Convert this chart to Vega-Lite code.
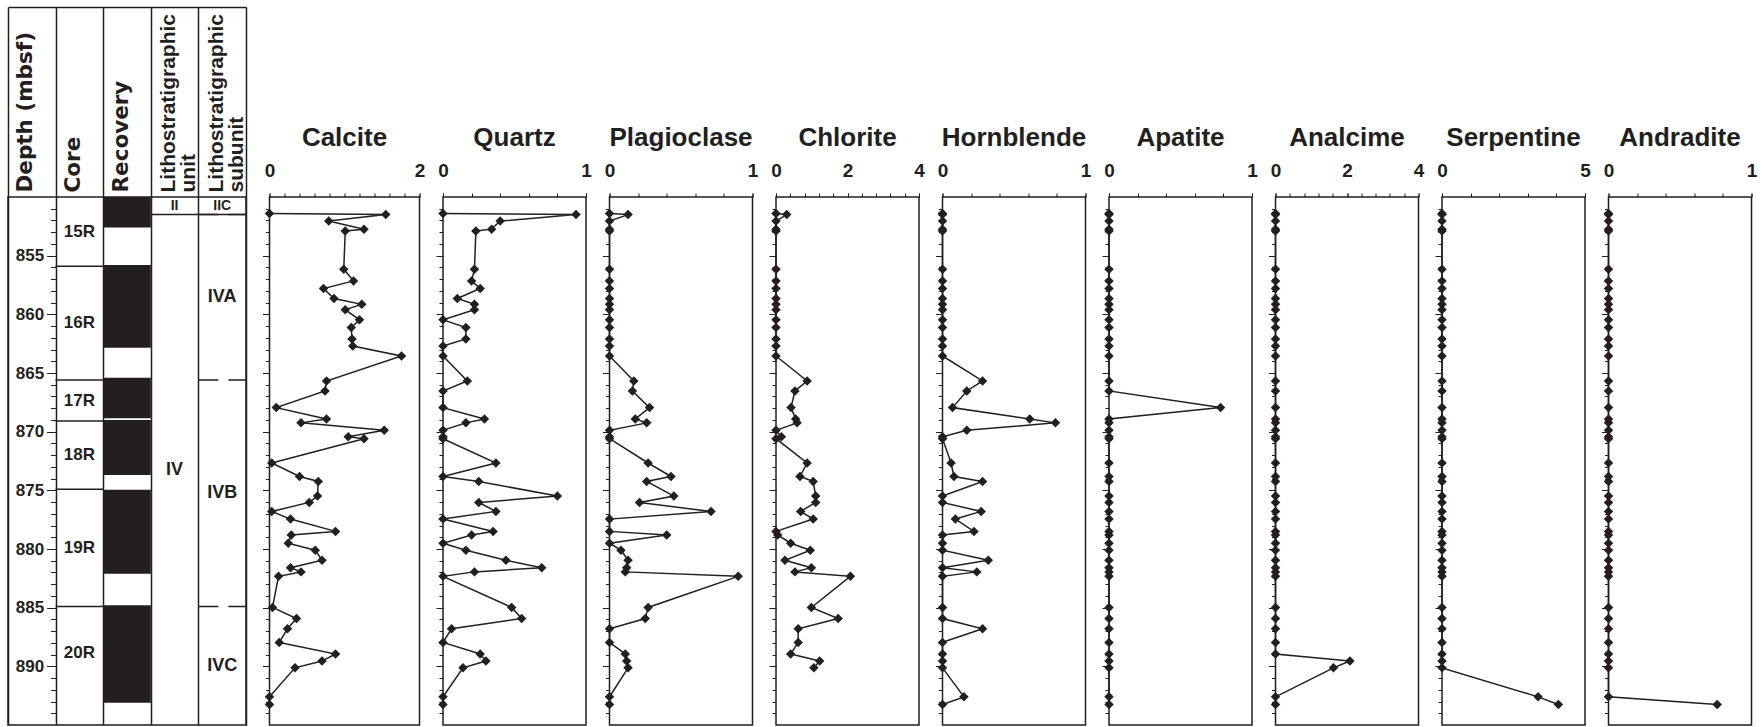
{
  "$schema": "https://vega.github.io/schema/vega-lite/v6.json",
  "background": "white",
  "padding": {"left": 6, "top": 5, "right": 4, "bottom": 2},
  "bounds": "flush",
  "spacing": 23.5,
  "config": {
    "font": "Liberation Sans",
    "view": {"stroke": "#231f20", "strokeWidth": 1.5},
    "axis": {
      "labelFont": "Liberation Sans",
      "labelFontWeight": "bold",
      "labelColor": "#231f20",
      "labelFontSize": 19,
      "tickColor": "#231f20",
      "tickWidth": 1,
      "domain": false,
      "grid": false,
      "labelOverlap": false,
      "labelFlush": false,
      "labelBound": false,
      "labelLimit": 0
    },
    "title": {"font": "Liberation Sans", "fontSize": 26, "fontWeight": "bold", "color": "#231f20", "offset": 10, "anchor": "middle"}
  },
  "datasets": {
    "samples": [
      {"depth": 851.4, "Calcite": 0, "Quartz": 0, "Plagioclase": 0, "Chlorite": 0, "Hornblende": 0, "Apatite": 0, "Analcime": 0, "Serpentine": 0, "Andradite": 0},
      {"depth": 851.5, "Calcite": 1.55, "Quartz": 0.93, "Plagioclase": 0.13, "Chlorite": 0.3, "Hornblende": 0, "Apatite": 0, "Analcime": 0, "Serpentine": 0, "Andradite": 0},
      {"depth": 852.05, "Calcite": 0.79, "Quartz": 0.4, "Plagioclase": 0, "Chlorite": 0, "Hornblende": 0, "Apatite": 0, "Analcime": 0, "Serpentine": 0, "Andradite": 0},
      {"depth": 852.74, "Calcite": 1.26, "Quartz": 0.34, "Plagioclase": 0, "Chlorite": 0, "Hornblende": 0, "Apatite": 0, "Analcime": 0, "Serpentine": 0, "Andradite": 0},
      {"depth": 852.89, "Calcite": 1.01, "Quartz": 0.23, "Plagioclase": 0, "Chlorite": 0, "Hornblende": 0, "Apatite": 0, "Analcime": 0, "Serpentine": 0, "Andradite": 0},
      {"depth": 856.15, "Calcite": 0.99, "Quartz": 0.22, "Plagioclase": 0, "Chlorite": 0, "Hornblende": 0, "Apatite": 0, "Analcime": 0, "Serpentine": 0, "Andradite": 0},
      {"depth": 857.15, "Calcite": 1.12, "Quartz": 0.2, "Plagioclase": 0, "Chlorite": 0, "Hornblende": 0, "Apatite": 0, "Analcime": 0, "Serpentine": 0, "Andradite": 0},
      {"depth": 857.8, "Calcite": 0.72, "Quartz": 0.26, "Plagioclase": 0, "Chlorite": 0, "Hornblende": 0, "Apatite": 0, "Analcime": 0, "Serpentine": 0, "Andradite": 0},
      {"depth": 858.65, "Calcite": 0.86, "Quartz": 0.1, "Plagioclase": 0, "Chlorite": 0, "Hornblende": 0, "Apatite": 0, "Analcime": 0, "Serpentine": 0, "Andradite": 0},
      {"depth": 859.15, "Calcite": 1.23, "Quartz": 0.22, "Plagioclase": 0, "Chlorite": 0, "Hornblende": 0, "Apatite": 0, "Analcime": 0, "Serpentine": 0, "Andradite": 0},
      {"depth": 859.6, "Calcite": 1.01, "Quartz": 0.22, "Plagioclase": 0, "Chlorite": 0, "Hornblende": 0, "Apatite": 0, "Analcime": 0, "Serpentine": 0, "Andradite": 0},
      {"depth": 860.47, "Calcite": 1.2, "Quartz": 0, "Plagioclase": 0, "Chlorite": 0, "Hornblende": 0, "Apatite": 0, "Analcime": 0, "Serpentine": 0, "Andradite": 0},
      {"depth": 861.12, "Calcite": 1.09, "Quartz": 0.16, "Plagioclase": 0, "Chlorite": 0, "Hornblende": 0, "Apatite": 0, "Analcime": 0, "Serpentine": 0, "Andradite": 0},
      {"depth": 862.1, "Calcite": 1.1, "Quartz": 0.16, "Plagioclase": 0, "Chlorite": 0, "Hornblende": 0, "Apatite": 0, "Analcime": 0, "Serpentine": 0, "Andradite": 0},
      {"depth": 862.7, "Calcite": 1.11, "Quartz": 0, "Plagioclase": 0, "Chlorite": 0, "Hornblende": 0, "Apatite": 0, "Analcime": 0, "Serpentine": 0, "Andradite": 0},
      {"depth": 863.55, "Calcite": 1.76, "Quartz": 0, "Plagioclase": 0, "Chlorite": 0, "Hornblende": 0, "Apatite": 0, "Analcime": 0, "Serpentine": 0, "Andradite": 0},
      {"depth": 865.68, "Calcite": 0.76, "Quartz": 0.17, "Plagioclase": 0.17, "Chlorite": 0.87, "Hornblende": 0.28, "Apatite": 0, "Analcime": 0, "Serpentine": 0, "Andradite": 0},
      {"depth": 866.53, "Calcite": 0.74, "Quartz": 0, "Plagioclase": 0.16, "Chlorite": 0.53, "Hornblende": 0.17, "Apatite": 0, "Analcime": 0, "Serpentine": 0, "Andradite": 0},
      {"depth": 867.95, "Calcite": 0.09, "Quartz": 0, "Plagioclase": 0.28, "Chlorite": 0.42, "Hornblende": 0.07, "Apatite": 0.78, "Analcime": 0, "Serpentine": 0, "Andradite": 0},
      {"depth": 868.92, "Calcite": 0.76, "Quartz": 0.29, "Plagioclase": 0.18, "Chlorite": 0.55, "Hornblende": 0.61, "Apatite": 0, "Analcime": 0, "Serpentine": 0, "Andradite": 0},
      {"depth": 869.25, "Calcite": 0.42, "Quartz": 0.16, "Plagioclase": 0.26, "Chlorite": 0.59, "Hornblende": 0.79, "Apatite": 0, "Analcime": 0, "Serpentine": 0, "Andradite": 0},
      {"depth": 869.88, "Calcite": 1.53, "Quartz": 0, "Plagioclase": 0, "Chlorite": 0, "Hornblende": 0.17, "Apatite": 0, "Analcime": 0, "Serpentine": 0, "Andradite": 0},
      {"depth": 870.44, "Calcite": 1.05, "Quartz": 0, "Plagioclase": 0, "Chlorite": 0.15, "Hornblende": 0, "Apatite": 0, "Analcime": 0, "Serpentine": 0, "Andradite": 0},
      {"depth": 870.6, "Calcite": 1.26, "Quartz": 0, "Plagioclase": 0, "Chlorite": 0, "Hornblende": 0, "Apatite": 0, "Analcime": 0, "Serpentine": 0, "Andradite": 0},
      {"depth": 872.67, "Calcite": 0.03, "Quartz": 0.37, "Plagioclase": 0.27, "Chlorite": 0.87, "Hornblende": 0.06, "Apatite": 0, "Analcime": 0, "Serpentine": 0, "Andradite": 0},
      {"depth": 873.82, "Calcite": 0.4, "Quartz": 0, "Plagioclase": 0.43, "Chlorite": 0.67, "Hornblende": 0.08, "Apatite": 0, "Analcime": 0, "Serpentine": 0, "Andradite": 0},
      {"depth": 874.24, "Calcite": 0.65, "Quartz": 0.25, "Plagioclase": 0.26, "Chlorite": 1.04, "Hornblende": 0.28, "Apatite": 0, "Analcime": 0, "Serpentine": 0, "Andradite": 0},
      {"depth": 875.49, "Calcite": 0.64, "Quartz": 0.8, "Plagioclase": 0.45, "Chlorite": 1.11, "Hornblende": 0, "Apatite": 0, "Analcime": 0, "Serpentine": 0, "Andradite": 0},
      {"depth": 876.03, "Calcite": 0.53, "Quartz": 0.25, "Plagioclase": 0.21, "Chlorite": 1.11, "Hornblende": 0, "Apatite": 0, "Analcime": 0, "Serpentine": 0, "Andradite": 0},
      {"depth": 876.8, "Calcite": 0.03, "Quartz": 0.37, "Plagioclase": 0.71, "Chlorite": 0.69, "Hornblende": 0.27, "Apatite": 0, "Analcime": 0, "Serpentine": 0, "Andradite": 0},
      {"depth": 877.45, "Calcite": 0.28, "Quartz": 0, "Plagioclase": 0, "Chlorite": 1.04, "Hornblende": 0.09, "Apatite": 0, "Analcime": 0, "Serpentine": 0, "Andradite": 0},
      {"depth": 878.5, "Calcite": 0.88, "Quartz": 0.35, "Plagioclase": 0, "Chlorite": 0, "Hornblende": 0.22, "Apatite": 0, "Analcime": 0, "Serpentine": 0, "Andradite": 0},
      {"depth": 878.8, "Calcite": 0.29, "Quartz": 0.2, "Plagioclase": 0.4, "Chlorite": 0.05, "Hornblende": 0, "Apatite": 0, "Analcime": 0, "Serpentine": 0, "Andradite": 0},
      {"depth": 879.51, "Calcite": 0.25, "Quartz": 0, "Plagioclase": 0, "Chlorite": 0.41, "Hornblende": 0, "Apatite": 0, "Analcime": 0, "Serpentine": 0, "Andradite": 0},
      {"depth": 880.1, "Calcite": 0.61, "Quartz": 0.16, "Plagioclase": 0.08, "Chlorite": 0.96, "Hornblende": 0, "Apatite": 0, "Analcime": 0, "Serpentine": 0, "Andradite": 0},
      {"depth": 880.96, "Calcite": 0.7, "Quartz": 0.44, "Plagioclase": 0.13, "Chlorite": 0.25, "Hornblende": 0.32, "Apatite": 0, "Analcime": 0, "Serpentine": 0, "Andradite": 0},
      {"depth": 881.59, "Calcite": 0.28, "Quartz": 0.69, "Plagioclase": 0.12, "Chlorite": 0.99, "Hornblende": 0, "Apatite": 0, "Analcime": 0, "Serpentine": 0, "Andradite": 0},
      {"depth": 881.95, "Calcite": 0.42, "Quartz": 0.22, "Plagioclase": 0.11, "Chlorite": 0.53, "Hornblende": 0.24, "Apatite": 0, "Analcime": 0, "Serpentine": 0, "Andradite": 0},
      {"depth": 882.33, "Calcite": 0.12, "Quartz": 0, "Plagioclase": 0.9, "Chlorite": 2.08, "Hornblende": 0, "Apatite": 0, "Analcime": 0, "Serpentine": 0, "Andradite": 0},
      {"depth": 884.98, "Calcite": 0.04, "Quartz": 0.48, "Plagioclase": 0.27, "Chlorite": 0.99, "Hornblende": 0, "Apatite": 0, "Analcime": 0, "Serpentine": 0, "Andradite": 0},
      {"depth": 885.93, "Calcite": 0.36, "Quartz": 0.55, "Plagioclase": 0.25, "Chlorite": 1.74, "Hornblende": 0, "Apatite": 0, "Analcime": 0, "Serpentine": 0, "Andradite": 0},
      {"depth": 886.8, "Calcite": 0.24, "Quartz": 0.06, "Plagioclase": 0, "Chlorite": 0.62, "Hornblende": 0.28, "Apatite": 0, "Analcime": 0, "Serpentine": 0, "Andradite": 0},
      {"depth": 887.96, "Calcite": 0.13, "Quartz": 0, "Plagioclase": 0, "Chlorite": 0.62, "Hornblende": 0, "Apatite": 0, "Analcime": 0, "Serpentine": 0, "Andradite": 0},
      {"depth": 888.95, "Calcite": 0.88, "Quartz": 0.26, "Plagioclase": 0.11, "Chlorite": 0.41, "Hornblende": 0, "Apatite": 0, "Analcime": 0, "Serpentine": 0, "Andradite": 0},
      {"depth": 889.55, "Calcite": 0.7, "Quartz": 0.3, "Plagioclase": 0.12, "Chlorite": 1.22, "Hornblende": 0, "Apatite": 0, "Analcime": 2.08, "Serpentine": 0, "Andradite": 0},
      {"depth": 890.13, "Calcite": 0.34, "Quartz": 0.14, "Plagioclase": 0.13, "Chlorite": 1.06, "Hornblende": 0, "Apatite": 0, "Analcime": 1.62, "Serpentine": 0, "Andradite": 0},
      {"depth": 892.6, "Calcite": 0, "Quartz": 0, "Plagioclase": 0, "Chlorite": null, "Hornblende": 0.15, "Apatite": 0, "Analcime": 0, "Serpentine": 3.36, "Andradite": 0},
      {"depth": 893.25, "Calcite": 0, "Quartz": 0, "Plagioclase": 0, "Chlorite": null, "Hornblende": 0, "Apatite": 0, "Analcime": 0, "Serpentine": 4.07, "Andradite": 0.76}
    ],
    "recovery": [
      {"top": 850, "bottom": 852.6},
      {"top": 855.8, "bottom": 862.85},
      {"top": 865.4, "bottom": 868.85},
      {"top": 869.0, "bottom": 873.7},
      {"top": 874.95, "bottom": 882.1},
      {"top": 884.8, "bottom": 893.1}
    ],
    "cores": [
      {"core": "15R", "top": 850, "bottom": 855.9},
      {"core": "16R", "top": 855.9, "bottom": 865.6},
      {"core": "17R", "top": 865.6, "bottom": 869.1},
      {"core": "18R", "top": 869.1, "bottom": 874.9},
      {"core": "19R", "top": 874.9, "bottom": 884.9},
      {"core": "20R", "top": 884.9, "bottom": 892.9}
    ],
    "units": [
      {"unit": "II", "top": 850, "bottom": 851.5},
      {"unit": "IV", "top": 851.5, "bottom": 895}
    ],
    "subunits": [
      {"subunit": "IIC", "top": 850, "bottom": 851.5},
      {"subunit": "IVA", "top": 851.5, "bottom": 865.6},
      {"subunit": "IVB", "top": 865.6, "bottom": 884.9},
      {"subunit": "IVC", "top": 884.9, "bottom": 895}
    ]
  },
  "hconcat": [
    {
      "width": 238,
      "height": 528,
      "layer": [
        {
          "data": {"name": "recovery"},
          "mark": {"type": "rect", "color": "#231f20"},
          "encoding": {
            "x": {
              "datum": 2, "type": "quantitative",
              "scale": {"domain": [0, 5], "nice": false, "zero": false},
              "axis": {
                "orient": "top", "offset": 190, "values": [0, 1, 2, 3, 4, 5],
                "tickSize": -190, "tickWidth": 1.5, "domain": true, "domainWidth": 1.5, "domainColor": "#231f20",
                "grid": true, "gridColor": "#231f20", "gridWidth": 1.5, "gridOpacity": 1,
                "labelExpr": "datum.value === 0 ? 'Depth (mbsf)' : datum.value === 1 ? 'Core' : datum.value === 2 ? 'Recovery' : datum.value === 3 ? ['Lithostratigraphic', 'unit'] : datum.value === 4 ? ['Lithostratigraphic', 'subunit'] : ''",
                "labelAngle": 270, "labelAlign": "left", "labelBaseline": "alphabetic",
                "labelOffset": 23.8, "labelPadding": 5,
                "labelFont": {"condition": {"test": "datum.value >= 3", "value": "Liberation Sans"}, "value": "DejaVu Sans"},
                "labelFontSize": {"condition": {"test": "datum.value >= 3", "value": 21}, "value": 21.5},
                "labelLineHeight": 20, "labelOverlap": false,
                "title": null
              }
            },
            "x2": {"datum": 3},
            "y": {
              "field": "top", "type": "quantitative",
              "scale": {"domain": [850, 895], "reverse": true, "nice": false, "zero": false},
              "axis": {"orient": "left", "offset": -47.6, "values": [855, 860, 865, 870, 875, 880, 885, 890], "tickSize": 9, "labelPadding": 3, "labelFontSize": 17, "labelOverlap": false, "title": null}
            },
            "y2": {"field": "bottom"}
          }
        },
        {
          "data": {"name": "cores"},
          "transform": [{"filter": "datum.top > 850"}],
          "mark": {"type": "rule", "color": "#231f20", "strokeWidth": 1.5},
          "encoding": {
            "x": {"datum": 1, "type": "quantitative"},
            "x2": {"datum": 2},
            "y": {
              "field": "top", "type": "quantitative",
              "axis": {"orient": "left", "offset": -47.6, "values": [851,852,853,854,855,856,857,858,859,860,861,862,863,864,865,866,867,868,869,870,871,872,873,874,875,876,877,878,879,880,881,882,883,884,885,886,887,888,889,890,891,892,893,894], "tickSize": 5, "labels": false, "title": null}
            }
          }
        },
        {
          "data": {"name": "subunits"},
          "transform": [{"filter": "datum.top > 850"}],
          "mark": {"type": "rule", "color": "#231f20", "strokeWidth": 1.5, "strokeDash": [20, 10]},
          "encoding": {
            "x": {"datum": 4, "type": "quantitative"},
            "x2": {"datum": 5},
            "y": {"field": "top", "type": "quantitative", "axis": null}
          }
        },
        {
          "data": {"name": "units"},
          "transform": [{"filter": "datum.top > 850"}],
          "mark": {"type": "rule", "color": "#231f20", "strokeWidth": 1.5},
          "encoding": {
            "x": {"datum": 3, "type": "quantitative"},
            "x2": {"datum": 5},
            "y": {"field": "top", "type": "quantitative", "axis": null}
          }
        },
        {
          "data": {"name": "cores"},
          "transform": [{"calculate": "(datum.top + datum.bottom) / 2", "as": "mid"}],
          "mark": {"type": "text", "font": "Liberation Sans", "fontWeight": "bold", "fontSize": 17, "color": "#231f20", "baseline": "middle"},
          "encoding": {
            "x": {"datum": 1.5, "type": "quantitative"},
            "y": {"field": "mid", "type": "quantitative", "axis": null},
            "text": {"field": "core"}
          }
        },
        {
          "data": {"name": "units"},
          "transform": [{"calculate": "(datum.top + datum.bottom) / 2", "as": "mid"}],
          "mark": {"type": "text", "font": "Liberation Sans", "fontWeight": "bold", "color": "#231f20", "baseline": "middle"},
          "encoding": {
            "x": {"datum": 3.5, "type": "quantitative"},
            "y": {"field": "mid", "type": "quantitative", "axis": null},
            "text": {"field": "unit"},
            "size": {"condition": {"test": "datum.bottom - datum.top < 3", "value": 14}, "value": 18}
          }
        },
        {
          "data": {"name": "subunits"},
          "transform": [{"calculate": "(datum.top + datum.bottom) / 2", "as": "mid"}],
          "mark": {"type": "text", "font": "Liberation Sans", "fontWeight": "bold", "color": "#231f20", "baseline": "middle"},
          "encoding": {
            "x": {"datum": 4.5, "type": "quantitative"},
            "y": {"field": "mid", "type": "quantitative", "axis": null},
            "text": {"field": "subunit"},
            "size": {"condition": {"test": "datum.bottom - datum.top < 3", "value": 14}, "value": 18}
          }
        }
      ],
      "resolve": {"axis": {"y": "independent"}}
    },
    {
      "width": 150, "height": 528,
      "title": {"text": "Calcite"},
      "data": {"name": "samples"},
      "layer": [
        {"mark": {"type": "line", "color": "#231f20", "strokeWidth": 1.5},
         "encoding": {"order": {"field": "depth", "type": "quantitative"},
           "x": {"field": "Calcite", "type": "quantitative", "scale": {"domain": [0, 2], "nice": false, "zero": false},
                 "axis": {"orient": "top", "values": [0, 1, 2], "format": "d", "tickSize": 4, "labelPadding": 13, "title": null}},
           "y": {"field": "depth", "type": "quantitative", "scale": {"domain": [850, 895], "reverse": true, "nice": false, "zero": false},
                 "axis": {"orient": "left", "values": [855, 860, 865, 870, 875, 880, 885, 890], "tickSize": 7, "labels": false, "title": null}}}},
        {"mark": {"type": "point", "shape": "diamond", "filled": true, "size": 90, "color": "#231f20", "opacity": 1},
         "encoding": {
           "x": {"field": "Calcite", "type": "quantitative",
                 "axis": {"orient": "top", "values": [0, 0.2, 0.4, 0.6, 0.8, 1, 1.2, 1.4, 1.6, 1.8, 2], "tickSize": 4, "labels": false, "title": null}},
           "y": {"field": "depth", "type": "quantitative",
           "axis": {"orient": "left", "values": [851,852,853,854,855,856,857,858,859,860,861,862,863,864,865,866,867,868,869,870,871,872,873,874,875,876,877,878,879,880,881,882,883,884,885,886,887,888,889,890,891,892,893,894], "tickSize": 4, "labels": false, "title": null}}}}
      ],
      "resolve": {"axis": {"x": "independent", "y": "independent"}}
    },
    {
      "width": 143, "height": 528,
      "title": {"text": "Quartz"},
      "data": {"name": "samples"},
      "layer": [
        {"mark": {"type": "line", "color": "#231f20", "strokeWidth": 1.5},
         "encoding": {"order": {"field": "depth", "type": "quantitative"},
           "x": {"field": "Quartz", "type": "quantitative", "scale": {"domain": [0, 1], "nice": false, "zero": false},
                 "axis": {"orient": "top", "values": [0, 1], "format": "d", "tickSize": 4, "labelPadding": 13, "title": null}},
           "y": {"field": "depth", "type": "quantitative", "scale": {"domain": [850, 895], "reverse": true, "nice": false, "zero": false},
                 "axis": {"orient": "left", "values": [855, 860, 865, 870, 875, 880, 885, 890], "tickSize": 7, "labels": false, "title": null}}}},
        {"mark": {"type": "point", "shape": "diamond", "filled": true, "size": 90, "color": "#231f20", "opacity": 1},
         "encoding": {
           "x": {"field": "Quartz", "type": "quantitative",
                 "axis": {"orient": "top", "values": [0, 0.2, 0.4, 0.6, 0.8, 1], "tickSize": 4, "labels": false, "title": null}},
           "y": {"field": "depth", "type": "quantitative",
           "axis": {"orient": "left", "values": [851,852,853,854,855,856,857,858,859,860,861,862,863,864,865,866,867,868,869,870,871,872,873,874,875,876,877,878,879,880,881,882,883,884,885,886,887,888,889,890,891,892,893,894], "tickSize": 4, "labels": false, "title": null}}}}
      ],
      "resolve": {"axis": {"x": "independent", "y": "independent"}}
    },
    {
      "width": 143, "height": 528,
      "title": {"text": "Plagioclase"},
      "data": {"name": "samples"},
      "layer": [
        {"mark": {"type": "line", "color": "#231f20", "strokeWidth": 1.5},
         "encoding": {"order": {"field": "depth", "type": "quantitative"},
           "x": {"field": "Plagioclase", "type": "quantitative", "scale": {"domain": [0, 1], "nice": false, "zero": false},
                 "axis": {"orient": "top", "values": [0, 1], "format": "d", "tickSize": 4, "labelPadding": 13, "title": null}},
           "y": {"field": "depth", "type": "quantitative", "scale": {"domain": [850, 895], "reverse": true, "nice": false, "zero": false},
                 "axis": {"orient": "left", "values": [855, 860, 865, 870, 875, 880, 885, 890], "tickSize": 7, "labels": false, "title": null}}}},
        {"mark": {"type": "point", "shape": "diamond", "filled": true, "size": 90, "color": "#231f20", "opacity": 1},
         "encoding": {
           "x": {"field": "Plagioclase", "type": "quantitative",
                 "axis": {"orient": "top", "values": [0, 0.2, 0.4, 0.6, 0.8, 1], "tickSize": 4, "labels": false, "title": null}},
           "y": {"field": "depth", "type": "quantitative",
           "axis": {"orient": "left", "values": [851,852,853,854,855,856,857,858,859,860,861,862,863,864,865,866,867,868,869,870,871,872,873,874,875,876,877,878,879,880,881,882,883,884,885,886,887,888,889,890,891,892,893,894], "tickSize": 4, "labels": false, "title": null}}}}
      ],
      "resolve": {"axis": {"x": "independent", "y": "independent"}}
    },
    {
      "width": 143, "height": 528,
      "title": {"text": "Chlorite"},
      "data": {"name": "samples"},
      "layer": [
        {"mark": {"type": "line", "color": "#231f20", "strokeWidth": 1.5},
         "encoding": {"order": {"field": "depth", "type": "quantitative"},
           "x": {"field": "Chlorite", "type": "quantitative", "scale": {"domain": [0, 4], "nice": false, "zero": false},
                 "axis": {"orient": "top", "values": [0, 2, 4], "format": "d", "tickSize": 4, "labelPadding": 13, "title": null}},
           "y": {"field": "depth", "type": "quantitative", "scale": {"domain": [850, 895], "reverse": true, "nice": false, "zero": false},
                 "axis": {"orient": "left", "values": [855, 860, 865, 870, 875, 880, 885, 890], "tickSize": 7, "labels": false, "title": null}}}},
        {"mark": {"type": "point", "shape": "diamond", "filled": true, "size": 90, "color": "#231f20", "opacity": 1},
         "encoding": {
           "x": {"field": "Chlorite", "type": "quantitative",
                 "axis": {"orient": "top", "values": [0, 0.4, 0.8, 1.2, 1.6, 2, 2.4, 2.8, 3.2, 3.6, 4], "tickSize": 4, "labels": false, "title": null}},
           "y": {"field": "depth", "type": "quantitative",
           "axis": {"orient": "left", "values": [851,852,853,854,855,856,857,858,859,860,861,862,863,864,865,866,867,868,869,870,871,872,873,874,875,876,877,878,879,880,881,882,883,884,885,886,887,888,889,890,891,892,893,894], "tickSize": 4, "labels": false, "title": null}}}}
      ],
      "resolve": {"axis": {"x": "independent", "y": "independent"}}
    },
    {
      "width": 143, "height": 528,
      "title": {"text": "Hornblende"},
      "data": {"name": "samples"},
      "layer": [
        {"mark": {"type": "line", "color": "#231f20", "strokeWidth": 1.5},
         "encoding": {"order": {"field": "depth", "type": "quantitative"},
           "x": {"field": "Hornblende", "type": "quantitative", "scale": {"domain": [0, 1], "nice": false, "zero": false},
                 "axis": {"orient": "top", "values": [0, 1], "format": "d", "tickSize": 4, "labelPadding": 13, "title": null}},
           "y": {"field": "depth", "type": "quantitative", "scale": {"domain": [850, 895], "reverse": true, "nice": false, "zero": false},
                 "axis": {"orient": "left", "values": [855, 860, 865, 870, 875, 880, 885, 890], "tickSize": 7, "labels": false, "title": null}}}},
        {"mark": {"type": "point", "shape": "diamond", "filled": true, "size": 90, "color": "#231f20", "opacity": 1},
         "encoding": {
           "x": {"field": "Hornblende", "type": "quantitative",
                 "axis": {"orient": "top", "values": [0, 0.2, 0.4, 0.6, 0.8, 1], "tickSize": 4, "labels": false, "title": null}},
           "y": {"field": "depth", "type": "quantitative",
           "axis": {"orient": "left", "values": [851,852,853,854,855,856,857,858,859,860,861,862,863,864,865,866,867,868,869,870,871,872,873,874,875,876,877,878,879,880,881,882,883,884,885,886,887,888,889,890,891,892,893,894], "tickSize": 4, "labels": false, "title": null}}}}
      ],
      "resolve": {"axis": {"x": "independent", "y": "independent"}}
    },
    {
      "width": 143, "height": 528,
      "title": {"text": "Apatite"},
      "data": {"name": "samples"},
      "layer": [
        {"mark": {"type": "line", "color": "#231f20", "strokeWidth": 1.5},
         "encoding": {"order": {"field": "depth", "type": "quantitative"},
           "x": {"field": "Apatite", "type": "quantitative", "scale": {"domain": [0, 1], "nice": false, "zero": false},
                 "axis": {"orient": "top", "values": [0, 1], "format": "d", "tickSize": 4, "labelPadding": 13, "title": null}},
           "y": {"field": "depth", "type": "quantitative", "scale": {"domain": [850, 895], "reverse": true, "nice": false, "zero": false},
                 "axis": {"orient": "left", "values": [855, 860, 865, 870, 875, 880, 885, 890], "tickSize": 7, "labels": false, "title": null}}}},
        {"mark": {"type": "point", "shape": "diamond", "filled": true, "size": 90, "color": "#231f20", "opacity": 1},
         "encoding": {
           "x": {"field": "Apatite", "type": "quantitative",
                 "axis": {"orient": "top", "values": [0, 0.2, 0.4, 0.6, 0.8, 1], "tickSize": 4, "labels": false, "title": null}},
           "y": {"field": "depth", "type": "quantitative",
           "axis": {"orient": "left", "values": [851,852,853,854,855,856,857,858,859,860,861,862,863,864,865,866,867,868,869,870,871,872,873,874,875,876,877,878,879,880,881,882,883,884,885,886,887,888,889,890,891,892,893,894], "tickSize": 4, "labels": false, "title": null}}}}
      ],
      "resolve": {"axis": {"x": "independent", "y": "independent"}}
    },
    {
      "width": 143, "height": 528,
      "title": {"text": "Analcime"},
      "data": {"name": "samples"},
      "layer": [
        {"mark": {"type": "line", "color": "#231f20", "strokeWidth": 1.5},
         "encoding": {"order": {"field": "depth", "type": "quantitative"},
           "x": {"field": "Analcime", "type": "quantitative", "scale": {"domain": [0, 4], "nice": false, "zero": false},
                 "axis": {"orient": "top", "values": [0, 2, 4], "format": "d", "tickSize": 4, "labelPadding": 13, "title": null}},
           "y": {"field": "depth", "type": "quantitative", "scale": {"domain": [850, 895], "reverse": true, "nice": false, "zero": false},
                 "axis": {"orient": "left", "values": [855, 860, 865, 870, 875, 880, 885, 890], "tickSize": 7, "labels": false, "title": null}}}},
        {"mark": {"type": "point", "shape": "diamond", "filled": true, "size": 90, "color": "#231f20", "opacity": 1},
         "encoding": {
           "x": {"field": "Analcime", "type": "quantitative",
                 "axis": {"orient": "top", "values": [0, 0.4, 0.8, 1.2, 1.6, 2, 2.4, 2.8, 3.2, 3.6, 4], "tickSize": 4, "labels": false, "title": null}},
           "y": {"field": "depth", "type": "quantitative",
           "axis": {"orient": "left", "values": [851,852,853,854,855,856,857,858,859,860,861,862,863,864,865,866,867,868,869,870,871,872,873,874,875,876,877,878,879,880,881,882,883,884,885,886,887,888,889,890,891,892,893,894], "tickSize": 4, "labels": false, "title": null}}}}
      ],
      "resolve": {"axis": {"x": "independent", "y": "independent"}}
    },
    {
      "width": 143, "height": 528,
      "title": {"text": "Serpentine"},
      "data": {"name": "samples"},
      "layer": [
        {"mark": {"type": "line", "color": "#231f20", "strokeWidth": 1.5},
         "encoding": {"order": {"field": "depth", "type": "quantitative"},
           "x": {"field": "Serpentine", "type": "quantitative", "scale": {"domain": [0, 5], "nice": false, "zero": false},
                 "axis": {"orient": "top", "values": [0, 5], "format": "d", "tickSize": 4, "labelPadding": 13, "title": null}},
           "y": {"field": "depth", "type": "quantitative", "scale": {"domain": [850, 895], "reverse": true, "nice": false, "zero": false},
                 "axis": {"orient": "left", "values": [855, 860, 865, 870, 875, 880, 885, 890], "tickSize": 7, "labels": false, "title": null}}}},
        {"mark": {"type": "point", "shape": "diamond", "filled": true, "size": 90, "color": "#231f20", "opacity": 1},
         "encoding": {
           "x": {"field": "Serpentine", "type": "quantitative",
                 "axis": {"orient": "top", "values": [0, 1, 2, 3, 4, 5], "tickSize": 4, "labels": false, "title": null}},
           "y": {"field": "depth", "type": "quantitative",
           "axis": {"orient": "left", "values": [851,852,853,854,855,856,857,858,859,860,861,862,863,864,865,866,867,868,869,870,871,872,873,874,875,876,877,878,879,880,881,882,883,884,885,886,887,888,889,890,891,892,893,894], "tickSize": 4, "labels": false, "title": null}}}}
      ],
      "resolve": {"axis": {"x": "independent", "y": "independent"}}
    },
    {
      "width": 143, "height": 528,
      "title": {"text": "Andradite"},
      "data": {"name": "samples"},
      "layer": [
        {"mark": {"type": "line", "color": "#231f20", "strokeWidth": 1.5},
         "encoding": {"order": {"field": "depth", "type": "quantitative"},
           "x": {"field": "Andradite", "type": "quantitative", "scale": {"domain": [0, 1], "nice": false, "zero": false},
                 "axis": {"orient": "top", "values": [0, 1], "format": "d", "tickSize": 4, "labelPadding": 13, "title": null}},
           "y": {"field": "depth", "type": "quantitative", "scale": {"domain": [850, 895], "reverse": true, "nice": false, "zero": false},
                 "axis": {"orient": "left", "values": [855, 860, 865, 870, 875, 880, 885, 890], "tickSize": 7, "labels": false, "title": null}}}},
        {"mark": {"type": "point", "shape": "diamond", "filled": true, "size": 90, "color": "#231f20", "opacity": 1},
         "encoding": {
           "x": {"field": "Andradite", "type": "quantitative",
                 "axis": {"orient": "top", "values": [0, 0.2, 0.4, 0.6, 0.8, 1], "tickSize": 4, "labels": false, "title": null}},
           "y": {"field": "depth", "type": "quantitative",
           "axis": {"orient": "left", "values": [851,852,853,854,855,856,857,858,859,860,861,862,863,864,865,866,867,868,869,870,871,872,873,874,875,876,877,878,879,880,881,882,883,884,885,886,887,888,889,890,891,892,893,894], "tickSize": 4, "labels": false, "title": null}}}}
      ],
      "resolve": {"axis": {"x": "independent", "y": "independent"}}
    }
  ]
}
